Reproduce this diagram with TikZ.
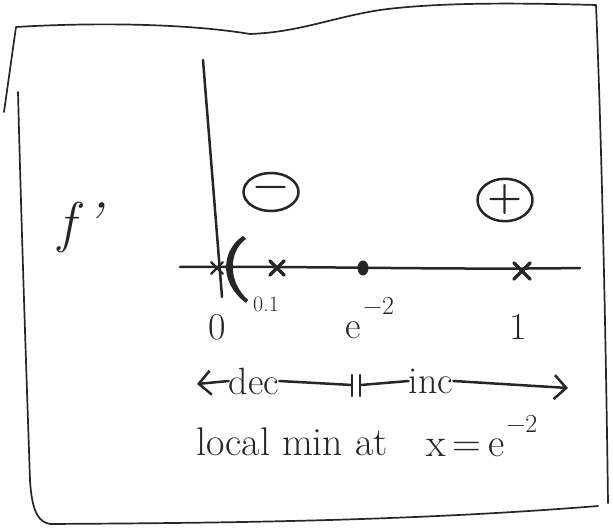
\documentclass[tikz,border=0pt]{standalone}
\usetikzlibrary{shapes.geometric,shapes.misc,arrows.meta}
\newcommand{\supmin}[1]{\kern2pt\raisebox{0.62em}{\fontsize{26}{28}\selectfont−#1}}
\begin{document}
\begin{tikzpicture}[x=1pt,y=-1pt,
  ink/.style={black!85},
  pen/.style={ink, line width=2.5pt, line cap=round, line join=round},
  bold/.style={ink, line width=3.4pt, line cap=round, line join=round},
  txt/.style={ink, inner sep=0pt, font=\fontsize{38}{40}\selectfont},
  small/.style={ink, inner sep=0pt, font=\fontsize{22}{24}\selectfont},
  sign/.style={draw, pen, ellipse, minimum width=55pt, minimum height=38pt, inner sep=0pt, font=\fontsize{40}{44}\selectfont\bfseries},
  crossmark/.style={draw, cross out, bold, minimum size=11pt, inner sep=0pt},
  barb/.style={-{Straight Barb[length=12pt,width=24pt,line width=2.5pt]}}]
\useasboundingbox (0,0) rectangle (613,529);
% hand drawn frame
\draw[pen, line width=1.7pt] (4,112) -- (16,27) .. controls (100,22) and (190,24) .. (250,34)
  .. controls (300,32) and (330,18) .. (380,10) .. controls (440,2) and (520,3) .. (596,5)
  .. controls (602,150) and (606,350) .. (608,503);
\draw[pen, line width=1.7pt] (18,92) .. controls (22,250) and (28,420) .. (30,480) .. controls (32,515) and (40,522) .. (50,524)
  .. controls (200,523) and (400,522) .. (598,506);
% axes
\coordinate (vtop) at (203,60);
\coordinate (vbot) at (222,297);
\coordinate (hl) at (180,267);
\coordinate (hr) at (580,268);
\draw[pen] (vtop) -- (vbot);
\draw[pen] (hl) .. controls (300,266) and (450,270) .. (hr);
% crescent
\fill[ink] (243,236) .. controls (224,248) and (216,280) .. (246,303) -- (248,300)
  .. controls (228,282) and (228,252) .. (246,239) -- cycle;
% marks on axis
\node[crossmark, minimum size=9pt, line width=2.4pt] (p0) at (217,268) {};
\node[crossmark] (p01) at (277,268) {};
\node[fill, ink, ellipse, minimum width=11pt, minimum height=15pt, inner sep=0pt] (pe) at (363,268) {};
\node[crossmark, minimum size=13pt] (p1) at (522,271) {};
% labels
\node[small] (l01) at (266,304) {0.1};
\node[txt] (l0) at (217,327) {0};
\node[txt] (le) at (370,318) {e\supmin{2}};
\node[txt] (l1) at (518,327) {1};
\node[ink, inner sep=0pt, font=\fontsize{56}{60}\selectfont\itshape] (fp) at (80,228) {f\,'};
% signs
\node[sign] (minus) at (271,192) {−};
\node[sign] (plus) at (505,200) {+};
% dec / inc row
\node[txt] (dec) at (254,381) {dec};
\node[txt] (inc) at (431,381) {inc};
\coordinate (decend) at (197,384);
\coordinate (tka) at (352,385);
\coordinate (tkb) at (361,385);
\coordinate (incend) at (568,388);
\draw[pen,barb] (dec.west) -- (decend);
\draw[pen] (dec.east) -- (tka);
\draw[pen] (352,375) -- (352,396);
\draw[pen] (360,375) -- (360,396);
\draw[pen] (tkb) -- (inc.west);
\draw[pen,barb] (inc.east) -- (incend);
% conclusion
\node[txt, font=\fontsize{40}{44}\selectfont] (lm) at (292,442) {local min at};
\node[txt, font=\fontsize{40}{44}\selectfont] (xe) at (482,436) {x\,=\,e\supmin{2}};
\end{tikzpicture}
\end{document}
